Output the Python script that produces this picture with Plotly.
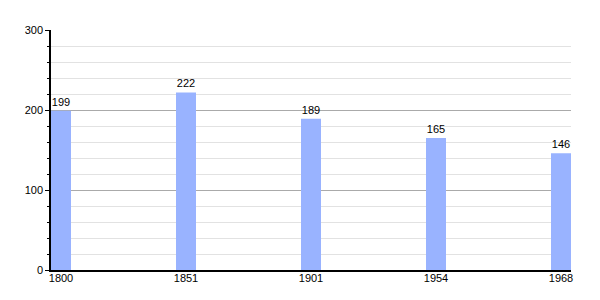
import plotly.graph_objects as go

years = ["1800", "1851", "1901", "1954", "1968"]
population = [199, 222, 189, 165, 146]

xpos = list(range(len(years)))
bar_w = 0.16

fig = go.Figure()
fig.add_trace(go.Bar(
    x=xpos, y=population, width=bar_w,
    marker=dict(color="#99b3ff", line=dict(width=0)),
    text=[str(v) for v in population], textposition="outside",
    textfont=dict(family="Liberation Sans, Arial", size=11, color="#000000"),
    cliponaxis=False,
))
fig.update_layout(
    width=600, height=300,
    margin=dict(l=51, r=29, t=30, b=30),
    paper_bgcolor="white", plot_bgcolor="white",
    showlegend=False,
    font=dict(family="Liberation Sans, Arial", size=11, color="#000000"),
    xaxis=dict(
        range=[-bar_w / 2, len(years) - 1 + bar_w / 2],
        tickmode="array", tickvals=xpos, ticktext=years,
        tickfont=dict(color="#000000", size=11),
        showgrid=False, zeroline=False,
        showline=True, linecolor="#000", linewidth=1.5,
        ticks="", ticklen=0, ticklabelstandoff=-3,
    ),
    yaxis=dict(
        range=[0, 300], tickvals=[0, 100, 200, 300],
        tickfont=dict(color="#000000", size=11),
        showgrid=True, gridcolor="#aaaaaa", gridwidth=1,
        zeroline=False,
        showline=True, linecolor="#000", linewidth=1.5,
        ticks="outside", ticklen=4, tickcolor="#000", tickwidth=1,
        minor=dict(dtick=20, showgrid=True, gridcolor="#e2e2e2", gridwidth=1,
                   ticks="outside", ticklen=2, tickcolor="#000"),
    ),
)
fig.write_html("out.html")
